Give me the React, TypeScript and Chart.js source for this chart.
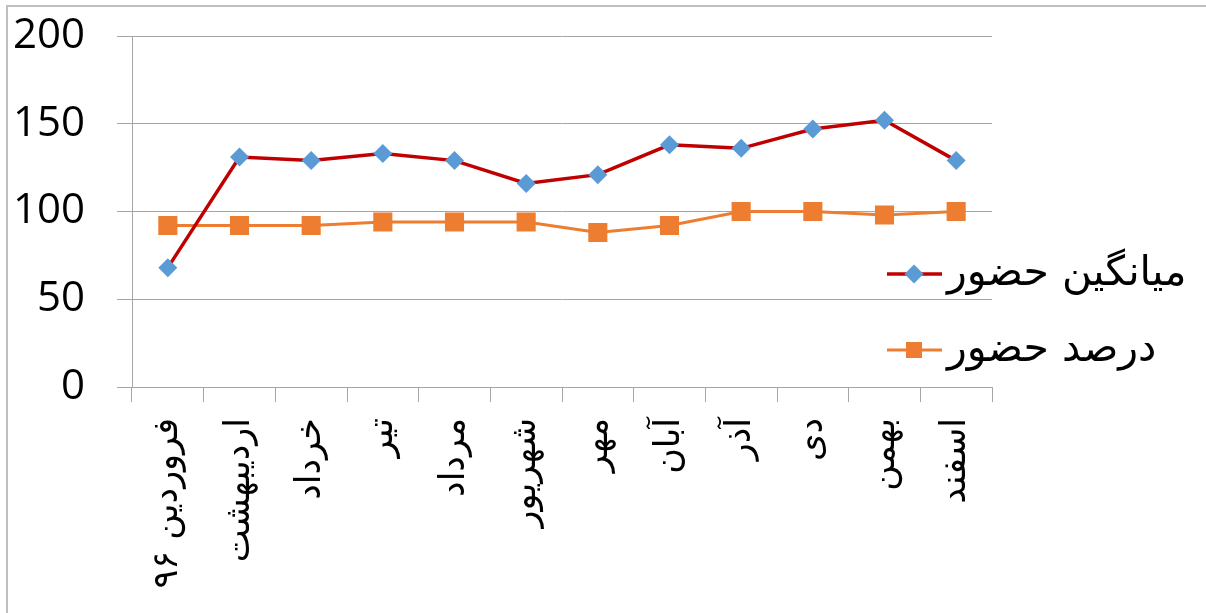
import React, { useEffect, useRef } from "react";
import { Chart, registerables } from "chart.js";

Chart.register(...registerables);

const categories = [
  "فروردین ۹۶",
  "اردیبهشت",
  "خرداد",
  "تیر",
  "مرداد",
  "شهریور",
  "مهر",
  "آبان",
  "آذر",
  "دی",
  "بهمن",
  "اسفند",
];
const averageAttendance = [68, 131, 129, 133, 129, 116, 121, 138, 136, 147, 152, 129];
const attendancePercent = [92, 92, 92, 94, 94, 94, 88, 92, 100, 100, 98, 100];
const seriesLabels = ["میانگین حضور", "درصد حضور"];
const yTicks = [0, 50, 100, 150, 200];

const RED = "#C00000";
const BLUE = "#5B9BD5";
const ORANGE = "#ED7D31";
const GRID = "#A6A6A6";

const frameAndLegend = {
  id: "frameAndLegend",
  beforeDraw(chart: any) {
    const ctx = chart.ctx;
    ctx.save();
    ctx.strokeStyle = "#BFBFBF";
    ctx.lineWidth = 2;
    ctx.beginPath();
    ctx.moveTo(7, 700);
    ctx.lineTo(7, 6);
    ctx.lineTo(1206, 6);
    ctx.stroke();
    ctx.restore();
  },
  afterDraw(chart: any) {
    const ctx = chart.ctx;
    const items = chart.data.datasets.map((ds: any, i: number) => ({
      ds,
      y: i === 0 ? 274 : 350,
    }));
    ctx.save();
    for (const { ds, y } of items) {
      ctx.strokeStyle = ds.borderColor;
      ctx.lineWidth = ds.borderWidth;
      ctx.beginPath();
      ctx.moveTo(887, y);
      ctx.lineTo(942, y);
      ctx.stroke();
      ctx.fillStyle = ds.pointBackgroundColor;
      ctx.beginPath();
      if (ds.pointStyle === "rectRot") {
        const r = 9.5;
        ctx.moveTo(914, y - r);
        ctx.lineTo(914 + r, y);
        ctx.lineTo(914, y + r);
        ctx.lineTo(914 - r, y);
        ctx.closePath();
      } else {
        ctx.rect(914 - 8, y - 8, 16, 16);
      }
      ctx.fill();
      ctx.fillStyle = "#000";
      ctx.font = "41px 'DejaVu Sans'";
      ctx.textAlign = "left";
      ctx.textBaseline = "middle";
      ctx.fillText(ds.label, 947, y);
    }
    ctx.restore();
  },
};

export default function App() {
  const ref = useRef<HTMLCanvasElement | null>(null);
  useEffect(() => {
    document.body.style.margin = "0";
    const chart = new Chart(ref.current as HTMLCanvasElement, {
      type: "line",
      data: {
        labels: categories,
        datasets: [
          {
            label: seriesLabels[0],
            data: averageAttendance,
            borderColor: RED,
            borderWidth: 3.5,
            pointStyle: "rectRot",
            pointRadius: 9.5,
            pointHoverRadius: 9.5,
            pointBackgroundColor: BLUE,
            pointBorderColor: BLUE,
            pointBorderWidth: 0,
            tension: 0,
          },
          {
            label: seriesLabels[1],
            data: attendancePercent,
            borderColor: ORANGE,
            borderWidth: 3,
            pointStyle: "rect",
            pointRadius: 13.5,
            pointHoverRadius: 13.5,
            pointBackgroundColor: ORANGE,
            pointBorderColor: ORANGE,
            pointBorderWidth: 0,
            tension: 0,
          },
        ],
      },
      options: {
        animation: false,
        responsive: false,
        devicePixelRatio: 1,
        layout: { padding: { left: 0, right: 214, top: 36, bottom: 0 } },
        plugins: { legend: { display: false }, tooltip: { enabled: false } },
        scales: {
          x: {
            offset: true,
            grid: {
              offset: true,
              drawOnChartArea: false,
              drawTicks: true,
              tickLength: 15,
              color: GRID,
              lineWidth: 1,
            },
            border: { color: GRID, width: 1 },
            ticks: {
              autoSkip: false,
              minRotation: 90,
              maxRotation: 90,
              padding: 16,
              color: "#000",
              font: { family: "'DejaVu Sans'", size: 35 },
            },
            afterFit(scale: any) {
              scale.height = 226;
            },
          },
          y: {
            min: 0,
            max: 200,
            afterBuildTicks(scale: any) {
              scale.ticks = yTicks.map((v) => ({ value: v }));
            },
            grid: {
              drawTicks: true,
              tickLength: 15,
              color: GRID,
              lineWidth: 1,
            },
            border: { color: GRID, width: 1 },
            ticks: {
              padding: 32,
              color: "#000",
              font: { family: "'Open Sans'", size: 42 },
            },
            afterFit(scale: any) {
              scale.width = 132;
              scale.paddingTop = 0;
              scale.paddingBottom = 0;
            },
          },
        },
      },
      plugins: [frameAndLegend],
    });
    return () => chart.destroy();
  }, []);
  return (
    <div style={{ width: 1206, height: 613, overflow: "hidden" }}>
      <canvas ref={ref} width={1206} height={613} style={{ display: "block" }} />
    </div>
  );
}
